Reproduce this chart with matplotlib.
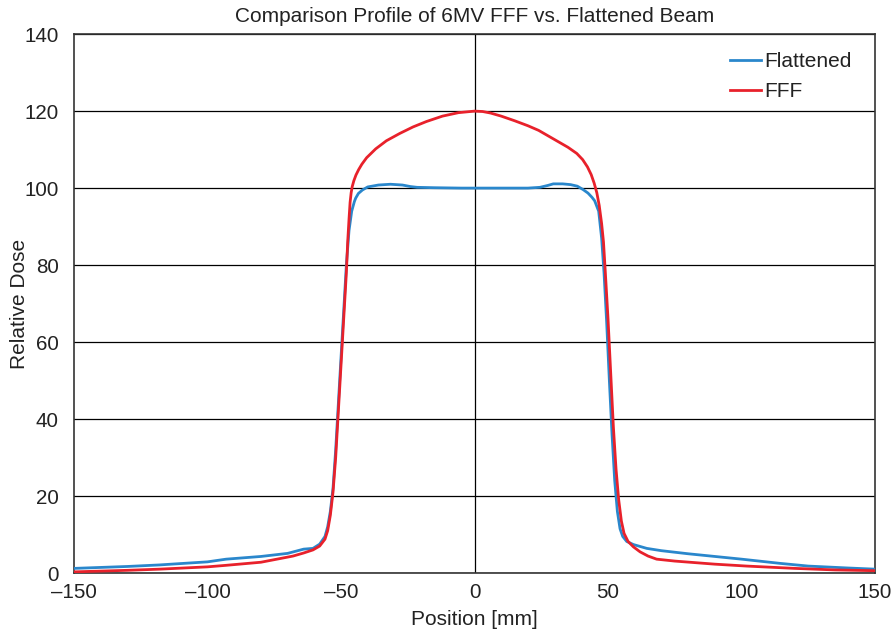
import matplotlib
matplotlib.use("Agg")
import matplotlib.pyplot as plt
import numpy as np

plt.rcParams['font.family'] = ['Liberation Sans', 'DejaVu Sans']

# Flattened beam profile
flat_x = [-150, -130, -118, -100, -93, -80, -70, -64, -60.5, -58, -56, -55, -54, -53, -52, -51, -50, -49, -48, -47, -46, -45, -44.5, -43.5, -42, -40, -36, -31.5, -27, -24, -21.5, -15, -5, 0, 10, 20, 24.5, 27.5, 29.5, 33, 36, 38.5, 40.7, 42.5, 44, 45, 46.5, 47.6, 48.5, 49.5, 50.5, 51.5, 52.5, 53.5, 54.5, 55.5, 57, 59.5, 62, 64.5, 70, 80, 100, 114.5, 125, 140, 150]
flat_y = [1.2, 1.7, 2.1, 2.9, 3.6, 4.3, 5.1, 6.2, 6.4, 7.5, 9.5, 12, 16, 22, 32, 44, 56, 68, 80, 89, 94, 96.5, 97.4, 98.6, 99.5, 100.3, 100.8, 101, 100.8, 100.4, 100.2, 100.1, 100, 100, 100, 100, 100.2, 100.7, 101.1, 101.1, 100.9, 100.5, 99.6, 98.7, 97.6, 96.7, 94, 87, 78, 65, 50, 36, 24, 16, 11.5, 9.5, 8.2, 7.4, 6.9, 6.4, 5.8, 5.0, 3.6, 2.5, 1.8, 1.3, 1.0]

# FFF beam profile
fff_x = [-150, -130, -118, -100, -93, -80, -68, -64, -60.5, -58, -56, -55, -54, -53, -52, -51, -50, -49, -48, -47.5, -47, -46.6, -46.2, -45.8, -45.2, -44.4, -43.4, -42.2, -40.4, -37, -33, -28, -23, -18, -12, -6, 0, 3, 6, 10, 15, 20, 24, 28, 32, 35, 38.3, 40.5, 42.3, 43.7, 44.8, 45.8, 46.7, 47.6, 48.3, 49, 50, 51, 52, 53, 54, 55, 56, 57.5, 59.5, 62, 65, 68.2, 75, 90, 102, 120, 135, 150]
fff_y = [0.3, 0.7, 1.0, 1.6, 2.0, 2.8, 4.4, 5.2, 6.0, 7.0, 8.8, 11, 15, 21, 30, 42, 54, 66, 78, 86, 92, 96.3, 98.8, 100.4, 101.9, 103.4, 104.8, 106.2, 107.9, 110.2, 112.3, 114.2, 115.9, 117.3, 118.7, 119.6, 120, 119.9, 119.5, 118.7, 117.5, 116.2, 115.0, 113.4, 111.8, 110.6, 109, 107.4, 105.5, 103.5, 101.3, 98.8, 95.5, 90.8, 86, 78, 66, 52, 38, 27, 19, 13.5, 10.3, 8.2, 6.8, 5.5, 4.4, 3.6, 3.1, 2.3, 1.8, 1.2, 0.8, 0.6]

x_ticks = [-150, -100, -50, 0, 50, 100, 150]
y_ticks = [0, 20, 40, 60, 80, 100, 120, 140]

fig = plt.figure(figsize=(8.96, 6.31), dpi=100)
ax = fig.add_axes([0.0826, 0.0919, 0.894, 0.854])

for yv in y_ticks:
    ax.axhline(yv, color="black", lw=0.9, zorder=1)
ax.axvline(0, color="black", lw=0.9, zorder=1)

ax.plot(flat_x, flat_y, color="#2a87cc", lw=2, label="Flattened", zorder=3)
ax.plot(fff_x, fff_y, color="#e8212b", lw=2, label="FFF", zorder=4)

ax.set_xlim(-150, 150)
ax.set_ylim(0, 140)
ax.set_xticks(x_ticks)
ax.set_yticks(y_ticks)
ax.set_xticklabels([f"{v}".replace("-", "\u2013") for v in x_ticks])
ax.tick_params(axis="both", labelsize=14.8, length=0, labelcolor="#222222")
ax.tick_params(axis="y", pad=11)
ax.tick_params(axis="x", pad=7)
for s in ax.spines.values():
    s.set_color("#333333")
    s.set_linewidth(1.2)

ax.set_xlabel("Position [mm]", fontsize=15, labelpad=6, color="#222222")
ax.set_ylabel("Relative Dose", fontsize=15, labelpad=-3, color="#222222")
ax.set_title("Comparison Profile of 6MV FFF vs. Flattened Beam", fontsize=15, pad=9, color="#222222")

leg = ax.legend(loc="upper right", bbox_to_anchor=(1.0, 1.0095), frameon=False, fontsize=15,
                handlelength=1.45, handletextpad=0.2, borderaxespad=0.7, labelspacing=0.55)
for t in leg.get_texts():
    t.set_color("#222222")

fig.savefig("out.png", dpi=100)
